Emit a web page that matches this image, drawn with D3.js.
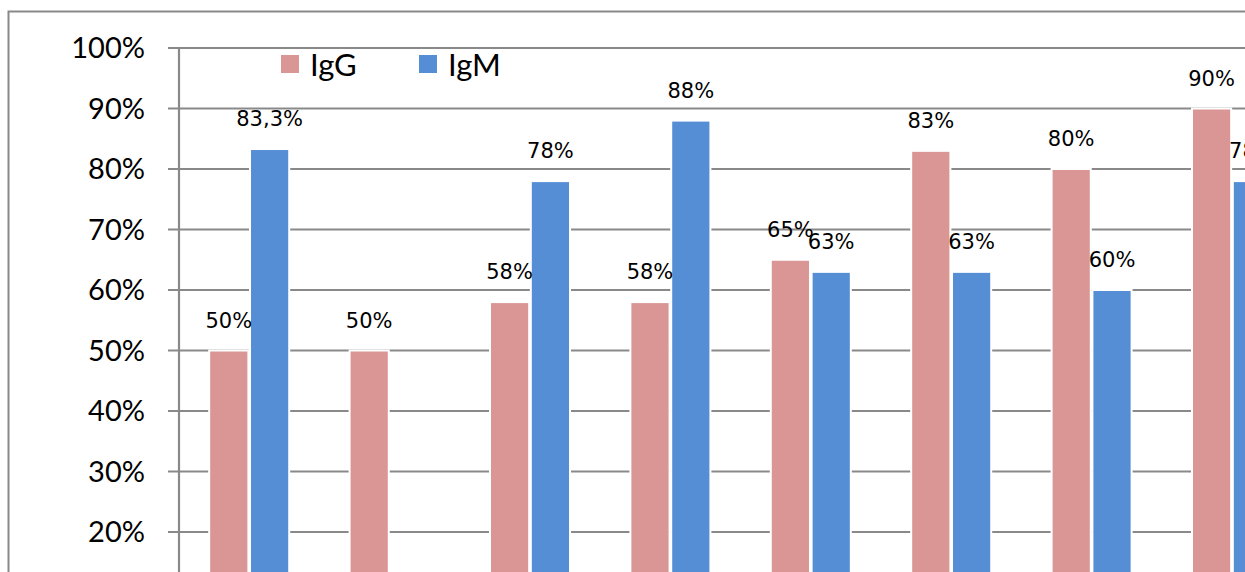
<!DOCTYPE html>
<html>
<head>
<meta charset="utf-8">
<script src="https://cdn.jsdelivr.net/npm/d3@7/dist/d3.min.js"></script>
<style>
  html, body { margin: 0; padding: 0; background: #fff; overflow: hidden; }
  svg { display: block; }
</style>
</head>
<body>
<svg id="chart" width="1245" height="572"></svg>
<script>
// Groups along the x axis (positional only, no category labels are shown)
const categories = ["1", "2", "3", "4", "5", "6", "7", "8"];
const seriesNames = ["IgG", "IgM"];
// Percentages per group
const igG = [50, 50, 58, 58, 65, 83, 80, 90];
const igM = [83.3, null, 78, 88, 63, 63, 60, 78];
// Text shown above each bar
const igGLabels = ["50%", "50%", "58%", "58%", "65%", "83%", "80%", "90%"];
const igMLabels = ["83,3%", "", "78%", "88%", "63%", "63%", "60%", "78%"];
const yTicks = [20, 30, 40, 50, 60, 70, 80, 90, 100];

const colors = { IgG: "#D99694", IgM: "#558ED5" };
const gridColor = "#898989";

const svg = d3.select("#chart");

// Outer chart frame
svg.append("rect")
  .attr("x", 8.5).attr("y", 11.5)
  .attr("width", 1400).attr("height", 800)
  .attr("fill", "none")
  .attr("stroke", gridColor)
  .attr("stroke-width", 2);

const plotLeft = 179;
const step = 140.4;
const x0 = d3.scaleBand()
  .domain(categories)
  .range([plotLeft, plotLeft + step * categories.length])
  .paddingInner(0.43)
  .paddingOuter(0.215);

const x1 = d3.scaleBand()
  .domain(seriesNames)
  .range([0, x0.bandwidth()])
  .paddingInner(0.04);

const y = d3.scaleLinear().domain([0, 100]).range([653, 48]);

// Horizontal gridlines with tick stubs left of the axis
svg.append("g")
  .selectAll("line")
  .data(yTicks)
  .join("line")
  .attr("x1", plotLeft - 11)
  .attr("x2", 1300)
  .attr("y1", d => y(d))
  .attr("y2", d => y(d))
  .attr("stroke", gridColor)
  .attr("stroke-width", 2.2);

// Vertical value axis
svg.append("line")
  .attr("x1", plotLeft).attr("x2", plotLeft)
  .attr("y1", y(100)).attr("y2", y(0))
  .attr("stroke", gridColor)
  .attr("stroke-width", 2.2);

// Tick labels
svg.append("g")
  .selectAll("text")
  .data(yTicks)
  .join("text")
  .attr("x", 145)
  .attr("y", d => y(d))
  .attr("dy", "0.36em")
  .attr("text-anchor", "end")
  .attr("font-family", "Lato, 'Open Sans', sans-serif")
  .attr("font-size", 29)
  .attr("fill", "#000")
  .text(d => d + "%");

// Bars
const rows = categories.map((c, i) => ({
  cat: c,
  values: [
    { key: "IgG", value: igG[i], label: igGLabels[i] },
    { key: "IgM", value: igM[i], label: igMLabels[i] }
  ]
}));

const groups = svg.append("g")
  .selectAll("g")
  .data(rows)
  .join("g")
  .attr("transform", d => `translate(${x0(d.cat)},0)`);

groups.selectAll("rect")
  .data(d => d.values.filter(v => v.value != null))
  .join("rect")
  .attr("x", d => x1(d.key))
  .attr("y", d => y(d.value))
  .attr("width", x1.bandwidth())
  .attr("height", d => y(0) - y(d.value))
  .attr("fill", d => colors[d.key])
  .attr("stroke", "#fff")
  .attr("stroke-width", 2);

groups.selectAll("text")
  .data(d => d.values.filter(v => v.value != null))
  .join("text")
  .attr("x", d => x1(d.key) + x1.bandwidth() / 2)
  .attr("y", d => y(d.value) - 23)
  .attr("text-anchor", "middle")
  .attr("font-family", "'DejaVu Sans', sans-serif")
  .attr("font-size", 21)
  .attr("fill", "#000")
  .text(d => d.label);

// Legend
const legend = svg.append("g");
const legendX = [281, 419];
seriesNames.forEach((s, i) => {
  legend.append("rect")
    .attr("x", legendX[i]).attr("y", 55)
    .attr("width", 18).attr("height", 18)
    .attr("fill", colors[s]);
  legend.append("text")
    .attr("x", legendX[i] + 29).attr("y", 76)
    .attr("font-family", "Lato, 'Open Sans', sans-serif")
    .attr("font-size", 31)
    .attr("fill", "#000")
    .text(s);
});
</script>
</body>
</html>
